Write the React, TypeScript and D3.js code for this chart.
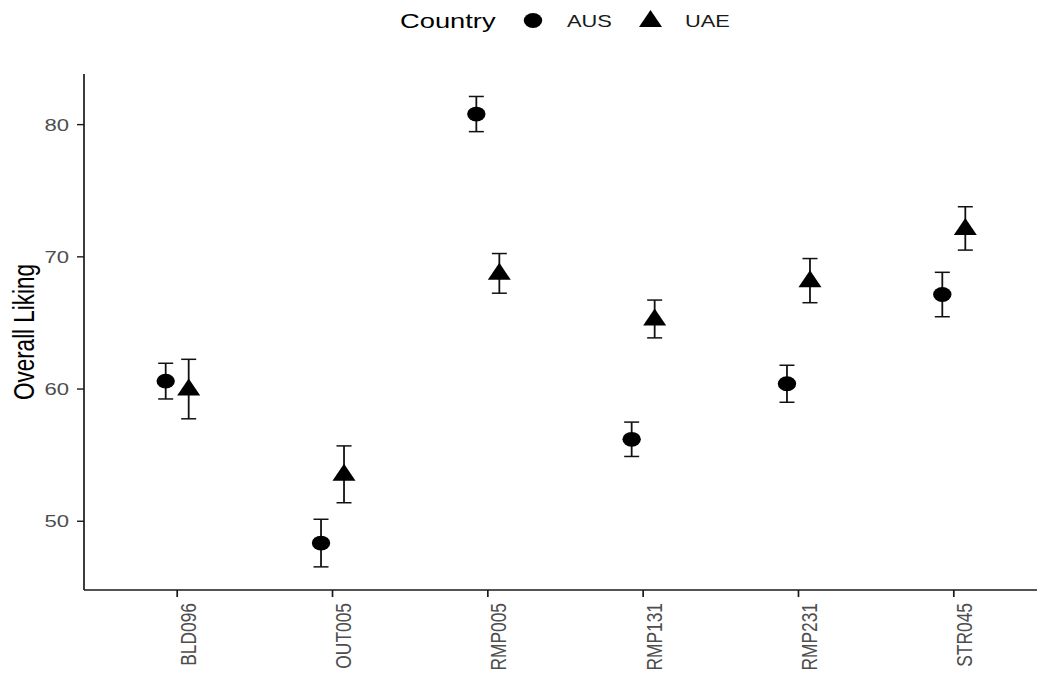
import React from "react";
import * as d3 from "d3";

// Products evaluated
const products = ["BLD096", "OUT005", "RMP005", "RMP131", "RMP231", "STR045"];

// Mean overall liking per product, and error-bar half widths
const ausMean = [60.6, 48.35, 80.8, 56.2, 60.4, 67.15];
const ausErr = [1.35, 1.8, 1.33, 1.3, 1.4, 1.68];
const uaeMean = [60.0, 53.55, 68.75, 65.3, 68.2, 72.15];
const uaeErr = [2.25, 2.15, 1.5, 1.43, 1.67, 1.64];

const yTicks = [50, 60, 70, 80];
const countries = ["AUS", "UAE"];

const W = 1037;
const H = 675;
const left = 84;
const right = 1047;
const top = 74;
const bottom = 590;
const SX = 1.3; // horizontal stretch of the whole figure
const FONT = "'Liberation Sans', Arial, sans-serif";

const circle = (cx: number, cy: number) => (
  <ellipse cx={cx} cy={cy} rx={9.2} ry={7.4} fill="#000" />
);
const triangle = (cx: number, cy: number) => (
  <path d={`M${cx},${cy - 10.5} L${cx + 11.5},${cy + 6.5} L${cx - 11.5},${cy + 6.5} Z`} fill="#000" />
);

function HText(props: { x: number; y: number; size: number; anchor?: string; fill: string; children: React.ReactNode; dy?: string }) {
  return (
    <text
      transform={`translate(${props.x},${props.y}) scale(${SX},1)`}
      textAnchor={props.anchor || "start"}
      fontSize={props.size}
      fill={props.fill}
      dy={props.dy}
    >
      {props.children}
    </text>
  );
}

export default function App() {
  const x = d3.scalePoint<string>().domain(products).range([left, right]).padding(0.6);
  const y = d3.scaleLinear().domain([44.8, 83.83]).range([bottom, top]);
  const dodge = 11.5;
  const cap = 7.5;

  const series = [
    { name: "AUS", mean: ausMean, err: ausErr, off: -dodge, mark: circle },
    { name: "UAE", mean: uaeMean, err: uaeErr, off: dodge, mark: triangle },
  ];

  return (
    <svg
      width={W}
      height={H}
      style={{ position: "absolute", left: 0, top: 0, background: "#fff" }}
      fontFamily={FONT}
    >
      {/* legend */}
      <g>
        <HText x={400} y={28} size={21} fill="#000">Country</HText>
        {circle(533, 20.5)}
        <HText x={567} y={27.3} size={16.8} fill="#1a1a1a">{countries[0]}</HText>
        {triangle(650.5, 20.5)}
        <HText x={685} y={27.3} size={16.8} fill="#1a1a1a">{countries[1]}</HText>
      </g>

      {/* axes */}
      <line x1={left} x2={left} y1={top} y2={bottom} stroke="#1a1a1a" strokeWidth={1.7} />
      <line x1={left} x2={right} y1={bottom} y2={bottom} stroke="#1a1a1a" strokeWidth={1.4} />
      {yTicks.map((t) => (
        <g key={t}>
          <line x1={left - 7} x2={left} y1={y(t)} y2={y(t)} stroke="#1a1a1a" strokeWidth={1.4} />
          <HText x={left - 15} y={y(t)} dy="0.36em" anchor="end" size={17} fill="#4d4d4d">
            {t}
          </HText>
        </g>
      ))}
      {products.map((p) => (
        <g key={p}>
          <line x1={x(p)!} x2={x(p)!} y1={bottom} y2={bottom + 7} stroke="#1a1a1a" strokeWidth={1.7} />
          <text
            transform={`translate(${x(p)! + 18.5},${bottom + 13}) scale(${SX},1) rotate(-90)`}
            textAnchor="end"
            fontSize={17.4}
            fill="#4d4d4d"
          >
            {p}
          </text>
        </g>
      ))}
      <text
        transform={`translate(34,${(top + bottom) / 2}) scale(${SX},1) rotate(-90)`}
        textAnchor="middle"
        fontSize={22.5}
        fill="#000"
      >
        Overall Liking
      </text>

      {/* error bars and points */}
      {series.map((s) =>
        products.map((p, i) => {
          const cx = x(p)! + s.off;
          const cy = y(s.mean[i]);
          const y1 = y(s.mean[i] + s.err[i]);
          const y2 = y(s.mean[i] - s.err[i]);
          return (
            <g key={s.name + p}>
              <line x1={cx} x2={cx} y1={y1} y2={y2} stroke="#111" strokeWidth={1.8} />
              <line x1={cx - cap} x2={cx + cap} y1={y1} y2={y1} stroke="#111" strokeWidth={1.5} />
              <line x1={cx - cap} x2={cx + cap} y1={y2} y2={y2} stroke="#111" strokeWidth={1.5} />
              {s.mark(cx, cy)}
            </g>
          );
        })
      )}
    </svg>
  );
}
